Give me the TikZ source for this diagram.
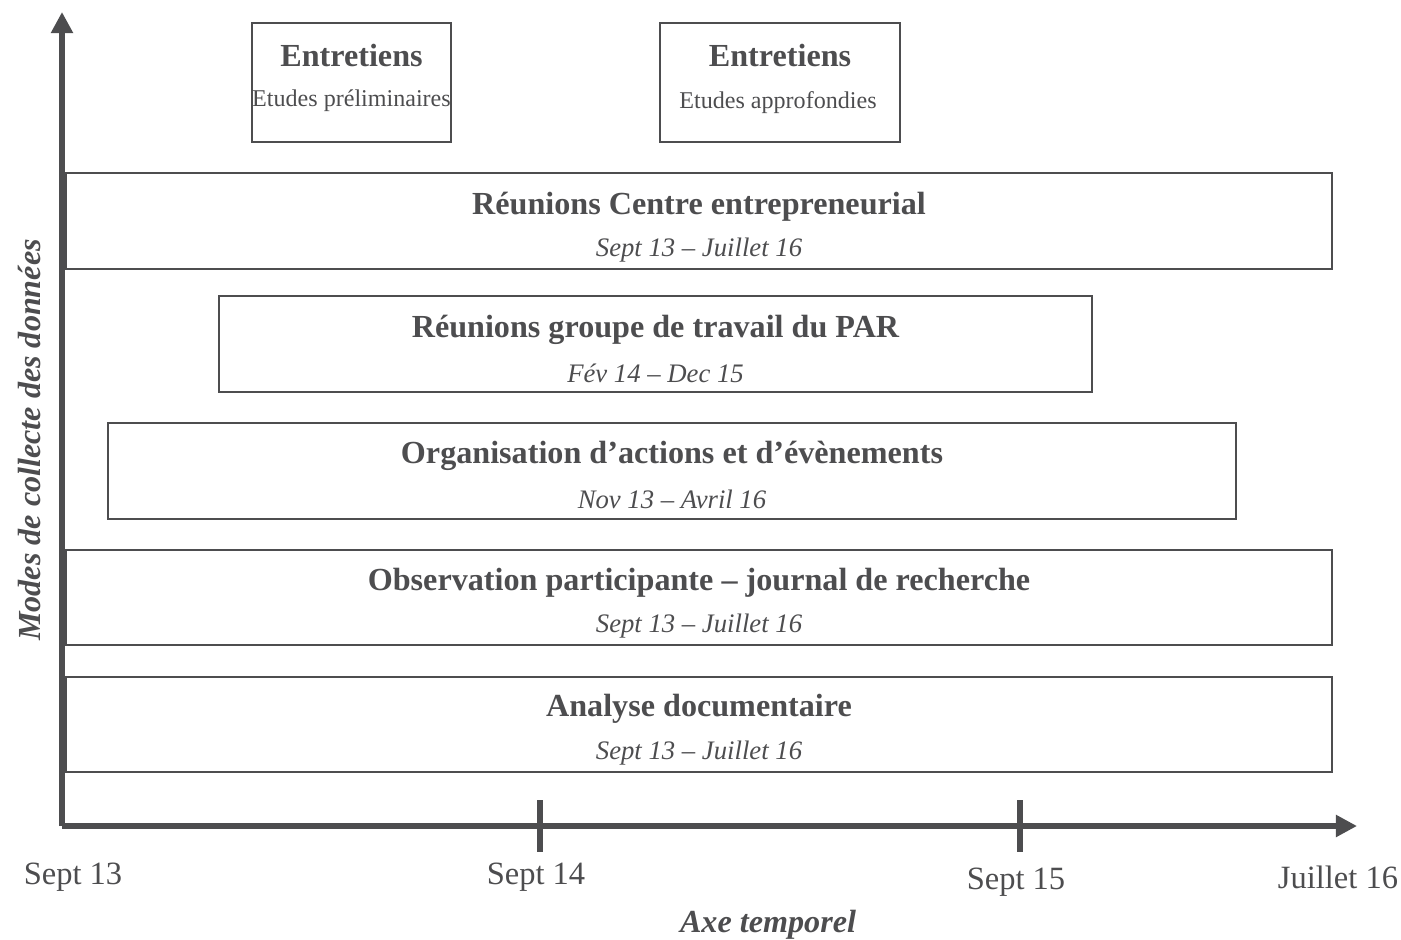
\documentclass[tikz,border=0pt]{standalone}
\usepackage{fontspec}
\setmainfont{Liberation Serif}
\usepackage{tikz}
\usetikzlibrary{positioning,arrows.meta}

\definecolor{gristrait}{RGB}{77,77,79}

\begin{document}
\begin{tikzpicture}[x=0.02cm, y=-0.02cm, text=gristrait,
        boite/.style={draw=gristrait, line width=1.1pt, inner sep=0pt},
        titre/.style={font=\fontsize{18.3}{22}\selectfont\bfseries},
        periode/.style={font=\fontsize{15.2}{18}\selectfont\itshape},
        sous/.style={font=\fontsize{13.7}{16}\selectfont},
        date/.style={font=\fontsize{18.5}{22}\selectfont},
        legende/.style={font=\fontsize{18.3}{22}\selectfont\bfseries\itshape},
        axe/.style={draw=gristrait, line width=2.9pt, -{Triangle[length=12pt,width=12pt]}}]
        \useasboundingbox (0,0) rectangle (1401,940);

        % AXES
        \coordinate (o) at (62,826);
        \coordinate (haut) at (62,12);
        \coordinate (droite) at (1357,826);
        \draw[axe] (o) -- (haut);
        \draw[axe] (o) -- (droite);
        \coordinate (t1a) at (540,800);
        \coordinate (t1b) at (540,852);
        \coordinate (t2a) at (1020,800);
        \coordinate (t2b) at (1020,852);
        \draw[gristrait, line width=2.9pt] (t1a) -- (t1b);
        \draw[gristrait, line width=2.9pt] (t2a) -- (t2b);

        % DATES
        \node[date] (d13) at (73,877) {Sept 13};
        \node[date] (d14) at (536,877) {Sept 14};
        \node[date] (d15) at (1016,882) {Sept 15};
        \node[date] (d16) at (1338,877) {Juillet 16};
        \node[legende] (ax) at (768,925) {Axe temporel};
        \node[legende, rotate=90] (ay) at (29,440) {Modes de collecte des données};

        % ENTRETIENS
        \node[boite, minimum width=199*0.02cm, minimum height=119*0.02cm] (e1) at (351.5,82.5) {};
        \node[titre] (e1t) at (351.5,55) {Entretiens};
        \node[sous] (e1s) at (351.5,101) {Etudes préliminaires};
        \node[boite, minimum width=240*0.02cm, minimum height=119*0.02cm] (e2) at (780,82.5) {};
        \node[titre] (e2t) at (780,55) {Entretiens};
        \node[sous] (e2s) at (778,103) {Etudes approfondies};

        % MODES
        \node[boite, minimum width=1266*0.02cm, minimum height=96*0.02cm] (rc) at (699,221) {};
        \node[titre] at (699,207) {Réunions Centre entrepreneurial};
        \node[periode] at (699,250) {Sept 13 -- Juillet 16};

        \node[boite, minimum width=873*0.02cm, minimum height=96*0.02cm] (rg) at (655.5,344) {};
        \node[titre] at (655.5,330) {Réunions groupe de travail du PAR};
        \node[periode] at (655.5,373) {Fév 14 -- Dec 15};

        \node[boite, minimum width=1128*0.02cm, minimum height=96*0.02cm] (oa) at (672,471) {};
        \node[titre] at (672,456) {Organisation d’actions et d’évènements};
        \node[periode] at (672,499) {Nov 13 -- Avril 16};

        \node[boite, minimum width=1266*0.02cm, minimum height=95*0.02cm] (op) at (699,597.5) {};
        \node[titre] at (699,583) {Observation participante -- journal de recherche};
        \node[periode] at (699,626) {Sept 13 -- Juillet 16};

        \node[boite, minimum width=1266*0.02cm, minimum height=95*0.02cm] (ad) at (699,724.5) {};
        \node[titre] at (699,709) {Analyse documentaire};
        \node[periode] at (699,753) {Sept 13 -- Juillet 16};
\end{tikzpicture}
\end{document}
